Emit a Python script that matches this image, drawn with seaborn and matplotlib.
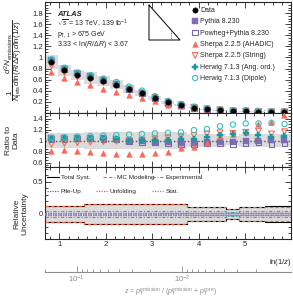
import numpy as np
import pandas as pd
import matplotlib
matplotlib.use("Agg")
import matplotlib.pyplot as plt
import seaborn as sns
from matplotlib.ticker import MultipleLocator, FuncFormatter, FixedLocator, NullFormatter, LogLocator
from matplotlib.lines import Line2D

# ---------------- data ----------------
bin_edges = [0.693, 0.972, 1.25, 1.53, 1.81, 2.09, 2.37, 2.64, 2.92, 3.20, 3.48,
             3.76, 4.04, 4.32, 4.60, 4.88, 5.15, 5.43, 5.71, 5.99]
data = [0.92, 0.77, 0.68, 0.63, 0.57, 0.51, 0.43, 0.36, 0.27, 0.19, 0.14,
        0.095, 0.066, 0.05, 0.035, 0.03, 0.025, 0.02, 0.02]
total_syst = [0.13, 0.13, 0.13, 0.16, 0.16, 0.16, 0.16, 0.16, 0.16, 0.16, 0.16,
              0.11, 0.11, 0.11, 0.08, 0.11, 0.11, 0.12, 0.12]
mc_modeling = [0.125, 0.125, 0.125, 0.155, 0.155, 0.155, 0.155, 0.155, 0.155, 0.155, 0.155,
               0.105, 0.105, 0.105, 0.075, 0.105, 0.105, 0.115, 0.115]
experimental = [0.05, 0.05, 0.05, 0.05, 0.05, 0.05, 0.05, 0.05, 0.05, 0.05, 0.05,
                0.04, 0.04, 0.04, 0.035, 0.04, 0.04, 0.04, 0.04]
pileup = [0.02, 0.02, 0.02, 0.02, 0.02, 0.02, 0.02, 0.02, 0.02, 0.02, 0.02,
          0.02, 0.02, 0.02, 0.02, 0.02, 0.02, 0.02, 0.02]
unfolding = [0.01, 0.01, 0.01, 0.01, 0.01, 0.01, 0.01, 0.01, 0.01, 0.01, 0.01,
             0.01, 0.01, 0.01, 0.01, 0.01, 0.01, 0.01, 0.01]
stat = [0.005, 0.005, 0.005, 0.005, 0.005, 0.005, 0.005, 0.006, 0.006, 0.007, 0.008,
        0.009, 0.01, 0.011, 0.012, 0.013, 0.014, 0.015, 0.016]

# ratios to data
pythia = [1.04, 1.04, 1.05, 1.05, 1.05, 1.03, 1.0, 0.99, 0.98, 0.98, 0.96,
          0.96, 0.97, 0.98, 0.98, 0.99, 1.0, 1.01, 1.01]
powheg = [1.03, 1.03, 1.04, 1.04, 1.03, 1.02, 0.99, 0.97, 0.96, 0.95, 0.94,
          0.94, 0.95, 0.95, 0.94, 0.95, 0.96, 0.93, 0.95]
sherpa_ahadic = [0.81, 0.82, 0.81, 0.79, 0.77, 0.75, 0.76, 0.76, 0.78, 0.80, 0.86,
                 0.89, 0.96, 1.09, 1.12, 1.15, 1.30, 1.34, 1.46]
sherpa_string = [0.93, 0.95, 0.96, 0.97, 0.98, 0.99, 1.00, 1.01, 1.03, 1.05, 1.07,
                 1.09, 1.12, 1.14, 1.13, 1.15, 1.17, 1.12, 1.16]
herwig_ang = [1.02, 1.02, 1.03, 1.03, 1.03, 1.02, 1.01, 1.01, 1.01, 1.01, 1.02,
              1.03, 1.06, 1.10, 1.12, 1.14, 1.10, 1.06, 1.09]
herwig_dipole = [1.05, 1.06, 1.07, 1.08, 1.09, 1.10, 1.11, 1.12, 1.13, 1.14, 1.15,
                 1.19, 1.21, 1.26, 1.29, 1.31, 1.31, 1.32, 1.30]

x_ticks = [1, 2, 3, 4, 5]
z_ticks = [0.1, 0.01]
z_ticklabels = [r"$10^{-1}$", r"$10^{-2}$"]

# ---------------- style ----------------
sns.set_style("ticks")
plt.rcParams["font.family"] = ["Liberation Sans", "DejaVu Sans"]
plt.rcParams["mathtext.fontset"] = "custom"
plt.rcParams["mathtext.rm"] = "Liberation Sans"
plt.rcParams["mathtext.it"] = "Liberation Sans:italic"
plt.rcParams["mathtext.bf"] = "Liberation Sans:bold"
plt.rcParams["axes.linewidth"] = 0.8

edges = np.array(bin_edges)
centers = 0.5 * (edges[:-1] + edges[1:])
df = pd.DataFrame({"x": centers, "data": data})

models = [
    ("Pythia 8.230", pythia, "s", "#7f6db5", True, 15),
    ("Powheg+Pythia 8.230", powheg, "s", "#7a69aa", False, 15),
    ("Sherpa 2.2.5 (AHADIC)", sherpa_ahadic, "^", "#f8695a", True, 17),
    ("Sherpa 2.2.5 (String)", sherpa_string, "v", "#f8695a", False, 17),
    ("Herwig 7.1.3 (Ang. ord.)", herwig_ang, "P", "#169a9a", True, 22),
    ("Herwig 7.1.3 (Dipole)", herwig_dipole, "8", "#3cc0c0", False, 16),
]

W, H = 293, 301
fig = plt.figure(figsize=(W / 100, H / 100), dpi=100)
L, R = 45 / W, 291 / W
def fy(py):
    return 1 - py / H
ax1 = fig.add_axes([L, fy(113), R - L, fy(2) - fy(113)])
ax2 = fig.add_axes([L, fy(167), R - L, fy(113) - fy(167)])
ax3 = fig.add_axes([L, fy(239), R - L, fy(167) - fy(239)])
ax4 = fig.add_axes([L, fy(271.5), R - L, 0.0001])

def ext(a):
    a = np.asarray(a, dtype=float)
    return np.append(a, a[-1])

gray_band = "#dcdcdc"

# ---------------- main panel ----------------
d = np.asarray(data)
ts = np.asarray(total_syst)
ax1.fill_between(edges, ext(d * (1 - ts)), ext(d * (1 + ts)), step="post",
                 color=gray_band, lw=0, zorder=1)
handles = {}
for name, vals, mk, col, filled, s in models:
    yv = d * np.asarray(vals)
    if filled:
        sns.scatterplot(x=centers, y=yv, marker=mk, s=s, color=col, edgecolor=col,
                        linewidth=0.3, ax=ax1, zorder=3, label=name, legend=False)
    else:
        sns.scatterplot(x=centers, y=yv, marker=mk, s=s, color=col, facecolor="none",
                        edgecolor=col, linewidth=0.8, ax=ax1, zorder=3, label=name,
                        legend=False)
    handles[name] = ax1.collections[-1]
sns.scatterplot(data=df, x="x", y="data", marker="o", s=15, color="black",
                edgecolor="black", linewidth=0.3, ax=ax1, zorder=5, label="Data",
                legend=False)
handles["Data"] = ax1.collections[-1]

order = ["Data"] + [m[0] for m in models]
fig.legend([handles[k] for k in order], order, loc="upper left",
           bbox_to_anchor=(191 / W, fy(7)), frameon=False, fontsize=5,
           handletextpad=0.1, labelspacing=0.62, borderpad=0, borderaxespad=0,
           handlelength=1.2, scatterpoints=1)

ax1.set_ylim(0, 2.0)

# ---------------- ratio panel ----------------
ax2.fill_between(edges, ext(1 - ts), ext(1 + ts), step="post", color=gray_band,
                 lw=0, zorder=1)
ax2.axhline(1.0, color="#555555", lw=1.0, ls=(0, (1, 1.5)), zorder=2)
for name, vals, mk, col, filled, s in models:
    if filled:
        sns.scatterplot(x=centers, y=vals, marker=mk, s=s, color=col, edgecolor=col,
                        linewidth=0.3, ax=ax2, zorder=3, legend=False)
    else:
        sns.scatterplot(x=centers, y=vals, marker=mk, s=s, color=col, facecolor="none",
                        edgecolor=col, linewidth=0.8, ax=ax2, zorder=3, legend=False)
ax2.set_ylim(0.52, 1.5)

# ---------------- uncertainty panel ----------------
ax3.fill_between(edges, ext(-ts), ext(ts), step="post", color=gray_band, lw=0, zorder=1)
unc = [
    ("Total Syst.", total_syst, "black", "-", 0.8),
    ("MC Modeling", mc_modeling, "#ff5a3c", (0, (3, 2)), 0.8),
    ("Experimental", experimental, "#20b4b4", (0, (3, 1.5, 1, 1.5)), 0.8),
    ("Pile-Up", pileup, "#4c6ec0", (0, (1, 1)), 0.9),
    ("Unfolding", unfolding, "#e0607e", (0, (1, 1)), 0.9),
    ("Stat.", stat, "#9a88c8", (0, (1, 1)), 0.9),
]
unc_handles = {}
for name, vals, col, ls, lw in unc:
    v = ext(vals)
    for sign in (1, -1):
        sns.lineplot(x=edges, y=sign * v, drawstyle="steps-post", color=col,
                     linestyle=ls, linewidth=lw, ax=ax3, zorder=3, legend=False,
                     estimator=None, sort=False)
    unc_handles[name] = Line2D([], [], color=col, linestyle=ls, linewidth=lw)
ax3.set_ylim(-0.39, 0.73)

leg_pos = {
    "Total Syst.": (47, 177.5), "MC Modeling": (103, 177.5), "Experimental": (152, 177.5),
    "Pile-Up": (47, 191.5), "Unfolding": (96, 191.5), "Stat.": (152, 191.5),
}
for name, (px, py) in leg_pos.items():
    fig.legend([unc_handles[name]], [name], loc="center left",
               bbox_to_anchor=(px / W, fy(py)), frameon=False, fontsize=4.6,
               handlelength=1.8, handletextpad=0.35, borderpad=0, borderaxespad=0)

# ---------------- axes styling ----------------
for ax in (ax1, ax2, ax3):
    ax.set_xlim(bin_edges[0], bin_edges[-1])
    ax.xaxis.set_major_locator(FixedLocator(x_ticks))
    ax.xaxis.set_minor_locator(MultipleLocator(0.2))
    ax.tick_params(which="both", direction="in", top=True, right=True, labelsize=5.5,
                   width=0.6, pad=1.5)
    ax.tick_params(which="major", length=4)
    ax.tick_params(which="minor", length=2)
    ax.set_xlabel("")
    ax.set_ylabel("")
    for sp in ax.spines.values():
        sp.set_linewidth(0.8)
ax1.tick_params(labelbottom=False)
ax2.tick_params(labelbottom=False)

fmt = lambda lo, hi: FuncFormatter(lambda v, p: f"{v:g}" if lo <= v <= hi else "")
ax1.yaxis.set_major_locator(MultipleLocator(0.2))
ax1.yaxis.set_minor_locator(MultipleLocator(0.05))
ax1.yaxis.set_major_formatter(fmt(0.15, 1.85))
ax2.yaxis.set_major_locator(MultipleLocator(0.2))
ax2.yaxis.set_minor_locator(MultipleLocator(0.05))
ax2.yaxis.set_major_formatter(fmt(0.55, 1.45))
ax3.yaxis.set_major_locator(MultipleLocator(0.5))
ax3.yaxis.set_minor_locator(MultipleLocator(0.1))
ax3.yaxis.set_major_formatter(fmt(-0.1, 0.6))
ax3.set_xticklabels([str(t) for t in x_ticks])

# secondary z axis
zc = "#8c8c8c"
ax4.set_xscale("log")
ax4.set_xlim(0.2, 9.2e-4)
ax4.set_ylim(0, 1)
ax4.patch.set_visible(False)
for k in ("top", "left", "right"):
    ax4.spines[k].set_visible(False)
ax4.spines["bottom"].set_color(zc)
ax4.spines["bottom"].set_linewidth(0.8)
ax4.set_yticks([])
ax4.xaxis.set_major_locator(FixedLocator(z_ticks))
ax4.set_xticklabels(z_ticklabels)
ax4.xaxis.set_minor_locator(LogLocator(base=10, subs=np.arange(2, 10)))
ax4.xaxis.set_minor_formatter(NullFormatter())
ax4.tick_params(which="both", direction="in", colors=zc, labelcolor=zc, labelsize=5.5,
                width=0.6, pad=1.5)
ax4.tick_params(which="major", length=4)
ax4.tick_params(which="minor", length=2)

# ---------------- texts ----------------
fig.text(57 / W, fy(14), "ATLAS", fontsize=5.5, fontweight="bold", style="italic",
         va="center", ha="left")
fig.text(57 / W, fy(24), r"$\sqrt{s}$ = 13 TeV, 139 fb$^{-1}$", fontsize=5,
         va="center", ha="left")
fig.text(57 / W, fy(34), r"p$_{\mathrm{T},1}$ > 675 GeV", fontsize=5,
         va="center", ha="left")
fig.text(57 / W, fy(44.5), r"3.33 < ln($R/\Delta R$) < 3.67", fontsize=5,
         va="center", ha="left")

fig.text(13 / W, fy(60), r"$\dfrac{1}{N_{\mathrm{jets}}}\dfrac{d^{2}N_{\mathrm{emissions}}}"
         r"{d\mathrm{ln}(R/\Delta R)\;d\mathrm{ln}(1/z)}$",
         rotation=90, fontsize=5.8, va="center", ha="center")
fig.text(12 / W, fy(140), "Ratio to\nData", rotation=90, fontsize=6, va="center",
         ha="center", linespacing=1.1)
fig.text(21 / W, fy(214), "Relative\nUncertainty", rotation=90, fontsize=6,
         va="center", ha="center", linespacing=1.1)
fig.text(292 / W, fy(262), r"ln(1/$z$)", fontsize=5.5, va="center", ha="right")
fig.text(171 / W, fy(292),
         r"$z$ = $p_{\mathrm{T}}^{\mathrm{emission}}$ / ($p_{\mathrm{T}}^{\mathrm{emission}}$ + $p_{\mathrm{T}}^{\mathrm{core}}$)",
         fontsize=5, color=zc, va="center", ha="center")

# Lund-plane sketch
tri = Line2D([149 / W, 149 / W, 180 / W, 149 / W], [fy(5), fy(40), fy(40), fy(5)],
             transform=fig.transFigure, color="black", lw=0.7)
fig.add_artist(tri)
dot = Line2D([171 / W, 171 / W], [fy(31), fy(40)], transform=fig.transFigure,
             color="#555555", lw=0.6, ls=(0, (1, 1)))
fig.add_artist(dot)

fig.savefig("out.png", dpi=100)
